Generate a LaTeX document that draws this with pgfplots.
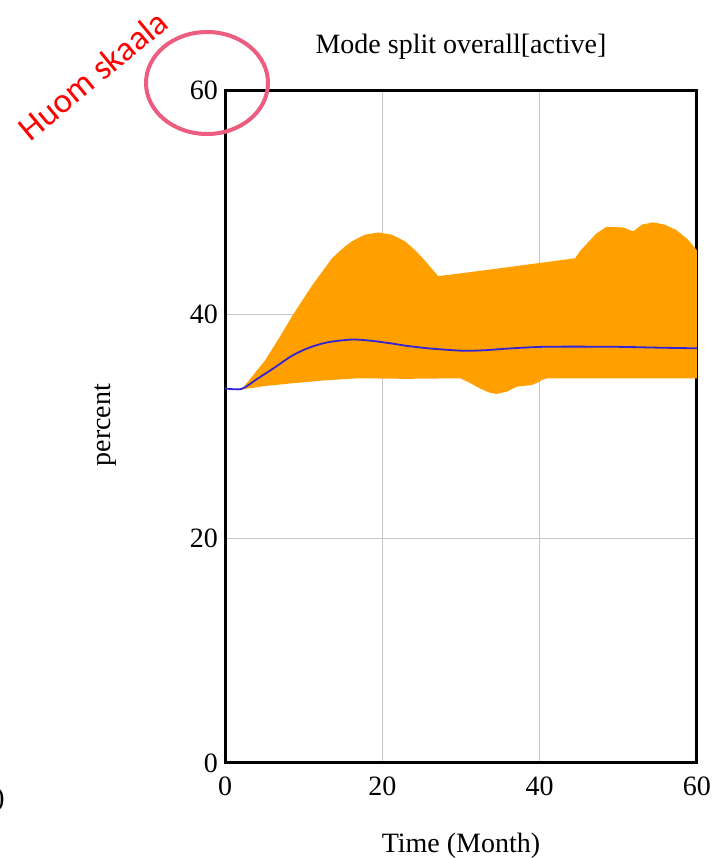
\documentclass[border=0pt]{standalone}
\usepackage{pgfplots}
\pgfplotsset{compat=1.18}
\usepgfplotslibrary{fillbetween}
\usepackage{fontspec}
\setmainfont{Liberation Serif}
\newfontfamily\calibri{Carlito}
\definecolor{bandorange}{RGB}{255,160,0}
\definecolor{meanblue}{RGB}{50,35,215}
\definecolor{circlepink}{RGB}{236,93,128}
\begin{document}
\begin{tikzpicture}
\begin{axis}[
  at={(112.5pt,47.5pt)}, anchor=south west,
  scale only axis, width=236pt, height=336.5pt,
  xmin=0, xmax=60, ymin=0, ymax=60,
  xtick={0,20,40,60}, ytick={0,20,40,60},
  grid=major, major grid style={draw=black!22, line width=0.6pt},
  axis line style={line width=1.5pt},
  tick style={draw=none},
  /pgf/number format/assume math mode=true,
  ticklabel style={font=\fontsize{14}{16}\selectfont},
  yticklabel style={xshift=0pt},
  xticklabel style={yshift=-3.5pt},
  every axis title shift=0pt,
  title={Mode split overall[active]},
  title style={at={(axis description cs:0.5,1.064)}, anchor=center, font=\fontsize{14}{16}\selectfont},
  xlabel={Time (Month)},
  xlabel style={at={(axis description cs:0.5,-0.123)}, anchor=center, font=\fontsize{14}{16}\selectfont},
  ylabel={percent},
  ylabel style={at={(axis description cs:-0.252,0.502)}, anchor=center, font=\fontsize{14}{16}\selectfont},
]
\addplot[draw=none, name path=upper] coordinates {
 (0,33.4) (2.1,33.3) (3.5,34.5) (5.1,35.9) (6.8,37.8) (8.5,39.8) (11.0,42.5) (13.6,45.0) (15,45.9) (16.1,46.5)
 (17.8,47.1) (19.5,47.3) (21.2,47.1) (22.9,46.5) (24.2,45.7) (25.4,44.8) (27.1,43.4)
 (29.9,43.65) (37,44.3) (44.5,45.0) (45.2,45.7) (46.0,46.3) (47.2,47.2) (48.5,47.8) (50.6,47.75) (51.9,47.4)
 (53.0,48.0) (54.4,48.2) (55.9,48.0) (57.4,47.5) (58.8,46.7) (60,45.7)
};
\addplot[draw=none, name path=lower] coordinates {
 (0,33.4) (2.1,33.3) (5,33.6) (8.5,33.85) (12.5,34.1) (16.9,34.3) (23,34.25) (29.9,34.3)
 (31.1,33.9) (32.4,33.4) (33.5,33.05) (34.5,32.9) (35.8,33.1) (37.1,33.55) (39.0,33.7)
 (39.7,33.9) (40.3,34.15) (41,34.3) (50,34.3) (60,34.3)
};
\addplot[fill=bandorange, draw=none] fill between[of=upper and lower];
\addplot[meanblue, line width=0.9pt, smooth] coordinates {
 (0,33.4) (2.1,33.35) (4,34.2) (6.4,35.3) (8.5,36.3) (10.6,37.0) (13,37.5) (16.1,37.75)
 (18.5,37.65) (21.2,37.4) (23,37.2) (25.4,37.0) (28,36.85) (30.5,36.75) (33,36.8)
 (36,36.95) (40.2,37.1) (45,37.12) (50.3,37.1) (55,37.03) (60,36.97)
};
\end{axis}
\node[rotate=39.6, text=red, font=\calibri\fontsize{17.5}{20}\selectfont] at (46.5pt,391.5pt) {Huom skaala};
\draw[circlepink, line width=2pt] (103.5pt,387.5pt) ellipse [x radius=30.5pt, y radius=25.5pt];
\node[anchor=east, inner sep=0pt, font=\fontsize{14}{16}\selectfont] at (2.5pt,29pt) {)};
\pgfresetboundingbox
\path[use as bounding box] (0pt,0pt) rectangle (357pt,429pt);
\end{tikzpicture}
\end{document}
